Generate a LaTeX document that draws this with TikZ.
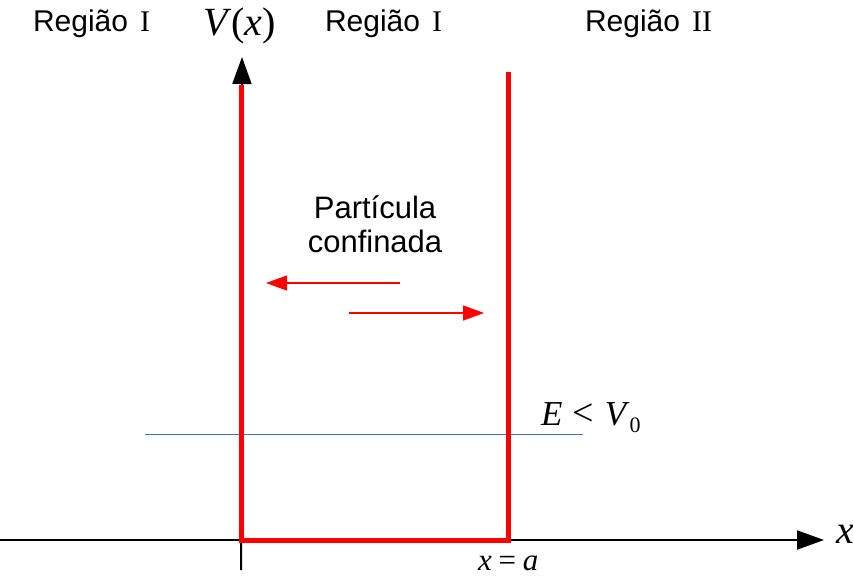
\documentclass[tikz,border=0pt]{standalone}
\usepackage{fontspec}
\setmainfont{Liberation Serif}
\setsansfont{Liberation Sans}
\usetikzlibrary{arrows.meta}
\definecolor{wallred}{RGB}{255,0,0}
\definecolor{energyblue}{RGB}{68,114,196}
\begin{document}
\begin{tikzpicture}[x=1pt,y=-1pt,
  lbl/.style={inner sep=0pt,outer sep=0pt,anchor=base west},
  sanslbl/.style={lbl,font=\sffamily\fontsize{30}{34}\selectfont},
  axis/.style={black,line width=2pt},
  wall/.style={wallred,line width=5pt,line join=miter},
  motion/.style={wallred,line width=1.3pt,-{Triangle[length=21pt,width=15pt]}},
  energy/.style={energyblue,line width=1pt}]
\useasboundingbox (0,0) rectangle (853,576);
% coordinates
\coordinate (yb) at (241,570);
\coordinate (yt) at (242,57);
\coordinate (xl) at (0,540);
\coordinate (xr) at (824,540);
\coordinate (w1) at (241,85);
\coordinate (c1) at (241,540);
\coordinate (c2) at (508,540);
\coordinate (w2) at (508,72);
\coordinate (e1) at (145,434);
\coordinate (e2) at (583,434);
\coordinate (la) at (400,283);
\coordinate (lb) at (266,283);
\coordinate (ra) at (349,313);
\coordinate (rb) at (484,313);
% axes
\draw[axis,-{Triangle[length=27pt,width=19pt]}] (yb) -- (yt);
\draw[axis,-{Triangle[length=27pt,width=19pt]}] (xl) -- (xr);
% energy level
\draw[energy] (e1) -- (e2);
% well walls
\draw[wall] (w1) -- (c1) -- (c2) -- (w2);
% motion arrows
\draw[motion] (la) -- (lb);
\draw[motion] (ra) -- (rb);
% labels
\node[sanslbl] (r1) at (33,31) {Região\hspace{0.4em}\rmfamily I};
\node[lbl,font=\fontsize{40}{44}\selectfont] (vx) at (203,35) {\textit{V}(\textit{x})};
\node[sanslbl] (r2) at (325,31) {Região\hspace{0.4em}\rmfamily I};
\node[sanslbl] (r3) at (585,31) {Região\hspace{0.4em}\rmfamily II};
\node[inner sep=0pt,font=\sffamily\fontsize{31}{34}\selectfont,align=center,anchor=base] (pc) at (375,252) {Partícula\\confinada};
\node[lbl,font=\fontsize{35}{38}\selectfont] (ev) at (541,425) {\textit{E}\hspace{0.3em}{\fontsize{38}{38}\selectfont<}\hspace{0.3em}\textit{V}\raisebox{-7pt}{\fontsize{22}{22}\selectfont 0}};
\node[lbl,font=\fontsize{31}{34}\selectfont] (xa) at (478,570) {\textit{x}\hspace{0.22em}=\hspace{0.22em}\textit{a}};
\node[lbl,font=\fontsize{40}{44}\selectfont] (xl2) at (836,543) {\textit{x}};
\end{tikzpicture}
\end{document}
